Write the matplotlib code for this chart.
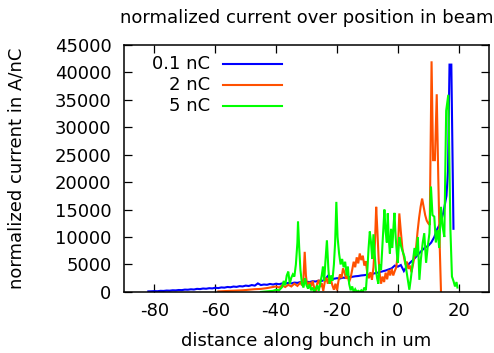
import matplotlib
matplotlib.use("Agg")
import matplotlib.pyplot as plt

plt.rcParams["font.family"] = ["DejaVu Sans"]

# 0.1 nC bunch
blue_x = [-82, -81, -80, -79, -78, -77, -76, -75, -74, -73, -72, -71, -70, -69,
          -68, -67, -66, -65, -64, -63, -62, -61, -60, -59, -58, -57, -56, -55,
          -54, -53, -52, -51, -50, -49, -48, -47, -46, -45, -44, -43, -42, -41,
          -40, -39, -38, -37, -36, -35, -34, -33, -32, -31, -30, -29, -28, -27,
          -26, -25, -24, -23, -22, -21, -20, -19, -18, -17, -16, -15, -14, -13,
          -12, -11, -10, -9, -8, -7, -6, -5, -4, -3, -2, -1, 0, 1, 2, 3, 4, 5,
          6, 7, 8, 9, 10, 11, 12, 13, 14, 15, 16, 16.5, 17, 17.6, 18.3]
blue_y = [100, 120, 150, 130, 200, 180, 250, 230, 300, 280, 350, 330, 420, 400,
          480, 440, 560, 520, 620, 580, 680, 640, 760, 700, 820, 780, 900, 850,
          980, 920, 1050, 1000, 1150, 1080, 1250, 1150, 1550, 1250, 1350, 1300,
          1450, 1350, 1500, 1400, 1550, 1500, 1650, 1550, 1700, 1650, 1800, 1700,
          1850, 1800, 1950, 1900, 2050, 2000, 2200, 2900, 2300, 2400, 2500, 2450,
          2600, 2550, 2700, 2750, 2850, 2900, 3000, 3050, 3150, 3200, 3350, 3450,
          3600, 3750, 3900, 4100, 4300, 4800, 4600, 4900, 3800, 4700, 5300, 5800,
          6400, 7000, 7600, 8100, 8400, 9000, 10000, 11500, 12500, 14500, 17500,
          22000, 41400, 41400, 11500]

# 2 nC bunch
orange_x = [-59, -57, -55, -53, -51, -49, -47, -45, -43, -41, -40, -39, -38, -37,
            -36, -35, -34, -33, -32, -31.5, -31, -30.6, -30.2, -29.8, -29, -28.5,
            -28, -27.5, -27, -26.5, -26, -25.5, -25, -24.5, -24, -23.5, -23,
            -22.5, -22, -21.5, -21, -20.5, -20, -19.5, -19, -18.5, -18, -17.5,
            -17, -16.5, -16, -15.5, -15, -14.5, -14, -13.5, -13, -12.5, -12,
            -11.5, -11, -10.5, -10, -9.5, -9, -8.5, -8, -7.5, -7.1, -6.7, -6.3,
            -6, -5.5, -5, -4.5, -4, -3.5, -3, -2.5, -2, -1.5, -1, -0.5, 0, 0.5,
            1, 1.5, 2, 2.5, 3, 3.5, 4, 4.5, 5, 5.5, 6, 6.5, 7, 7.5, 8, 8.5, 9,
            9.5, 10, 10.5, 11.1, 11.6, 12.2, 12.8, 13.3, 13.8, 14.2]
orange_y = [100, 150, 200, 250, 300, 400, 500, 550, 700, 900, 1000, 800, 1200,
            900, 1300, 1000, 1500, 1100, 1700, 1200, 2500, 7300, 3000, 1200, 1800,
            1000, 2000, 800, 100, 1500, 2200, 900, 1600, 200, 1800, 2600, 1500,
            2800, 2200, 1200, 400, 1500, 300, 2000, 3200, 2500, 4300, 3500, 2400,
            3000, 1800, 2600, 4000, 5500, 4500, 6300, 5200, 7000, 5800, 6600,
            4800, 5600, 3200, 2500, 3600, 2200, 4500, 9000, 15500, 11000, 6000,
            3500, 1500, 2800, 1800, 3500, 2300, 4000, 3000, 4200, 3000, 3800,
            4500, 7000, 14300, 11000, 8000, 6400, 5000, 5500, 4200, 4800, 3600,
            5000, 6500, 8000, 11000, 13500, 15500, 17000, 15500, 14000, 13000,
            12500, 12200, 42000, 24000, 24000, 36000, 21000, 8000, 0]

# 5 nC bunch
green_x = [-45, -43, -41, -40, -39, -38, -37.5, -37, -36.5, -36, -35.5, -35,
           -34.5, -34, -33.5, -33, -32.8, -32.4, -32, -31.5, -31, -30.5, -30,
           -29.5, -29, -28.5, -28, -27.5, -27, -26.5, -26, -25.5, -25, -24.6,
           -24.2, -23.8, -23.3, -22.8, -22.4, -22, -21.5, -21, -20.6, -20.2,
           -19.8, -19.3, -18.8, -18.3, -17.8, -17.3, -16.8, -16.4, -16, -15.5,
           -15, -14.5, -14, -13.5, -13, -12.5, -12, -11.5, -11, -10.5, -10, -9.6,
           -9.2, -8.8, -8.4, -8, -7.6, -7.2, -6.8, -6.4, -6, -5.5, -5, -4.7,
           -4.4, -4, -3.6, -3.3, -3, -2.6, -2.2, -1.8, -1.4, -1.1, -0.7, -0.3, 0,
           0.5, 1, 1.5, 2.2, 2.8, 3.3, 3.8, 4.3, 4.9, 5.5, 6, 6.6, 7.1, 7.6, 8.2,
           8.7, 9.3, 9.8, 10.4, 10.9, 11.4, 12, 12.5, 13.1, 13.6, 14.2, 14.7,
           15.3, 15.9, 16.6, 17.3, 17.8, 18.3, 18.8, 19.3, 19.6]
green_y = [0, 100, 200, 400, 300, 900, 2000, 1200, 3000, 3700, 1500, 2600, 3200,
           2800, 5000, 9000, 12800, 8000, 4000, 1500, 800, 2500, 1200, 600, 1400,
           300, 800, 0, 500, 1200, 200, 1500, 3000, 4600, 2000, 5500, 9400, 4000,
           1500, 3000, 2000, 5000, 9000, 16400, 10000, 7000, 5000, 6000, 4500,
           5500, 3000, 4600, 1500, 300, 1000, 0, 500, 0, 200, 0, 300, 0, 800, 300,
           4000, 8000, 11000, 9000, 6000, 10500, 7000, 4000, 2500, 1500, 5000,
           4000, 9000, 12000, 15000, 11000, 9000, 14300, 10000, 7000, 11500, 8000,
           12000, 14400, 10000, 7000, 5300, 10000, 8500, 7500, 6400, 4000, 2200,
           400, 2500, 5300, 8000, 6500, 10000, 2200, 6000, 9000, 10700, 5300,
           8000, 10700, 19200, 14000, 13700, 9000, 11300, 8000, 15500, 12000,
           10000, 33000, 35900, 11300, 2800, 2000, 1000, 1800, 800]

labels = ["0.1 nC", "2 nC", "5 nC"]
colors = ["#0000ff", "#ff5000", "#00ff00"]
x_ticks = [-80, -60, -40, -20, 0, 20]
y_ticks = [0, 5000, 10000, 15000, 20000, 25000, 30000, 35000, 40000, 45000]

fig = plt.figure(figsize=(4.94, 3.53), dpi=100)
ax = fig.add_axes([0.251, 0.173, 0.739, 0.700])

series = [(blue_x, blue_y), (orange_x, orange_y), (green_x, green_y)]
for (xs, ys), col in zip(series, colors):
    ax.plot(xs, ys, color=col, lw=1.5, solid_joinstyle="miter")

ax.set_xlim(-90, 30)
ax.set_ylim(0, 45000)
ax.set_xticks(x_ticks)
ax.set_yticks(y_ticks)
ax.set_xticklabels([str(v) for v in x_ticks])
ax.set_yticklabels([str(v) for v in y_ticks])
ax.tick_params(direction="in", length=6, width=0.9, top=True, right=True,
               labelsize=13, pad=7)
ax.tick_params(axis="y", pad=9)
for sp in ax.spines.values():
    sp.set_linewidth(1.1)

# gnuplot-style key: right-aligned text, sample to the right
for i, (lab, col) in enumerate(zip(labels, colors)):
    yk = 0.923 - i * 0.085
    ax.text(0.236, yk, lab, transform=ax.transAxes, ha="right", va="center",
            fontsize=13)
    ax.plot([0.271, 0.433], [yk, yk], color=col, lw=1.5,
            transform=ax.transAxes)

ax.set_xlabel("distance along bunch in um", fontsize=13, labelpad=9)
ax.set_ylabel("normalized current in A/nC", fontsize=13)
ax.yaxis.set_label_coords(-0.27, 0.5)
ax.set_title("normalized current over position in beam", fontsize=13, pad=16)

fig.savefig("out.png", dpi=100)
